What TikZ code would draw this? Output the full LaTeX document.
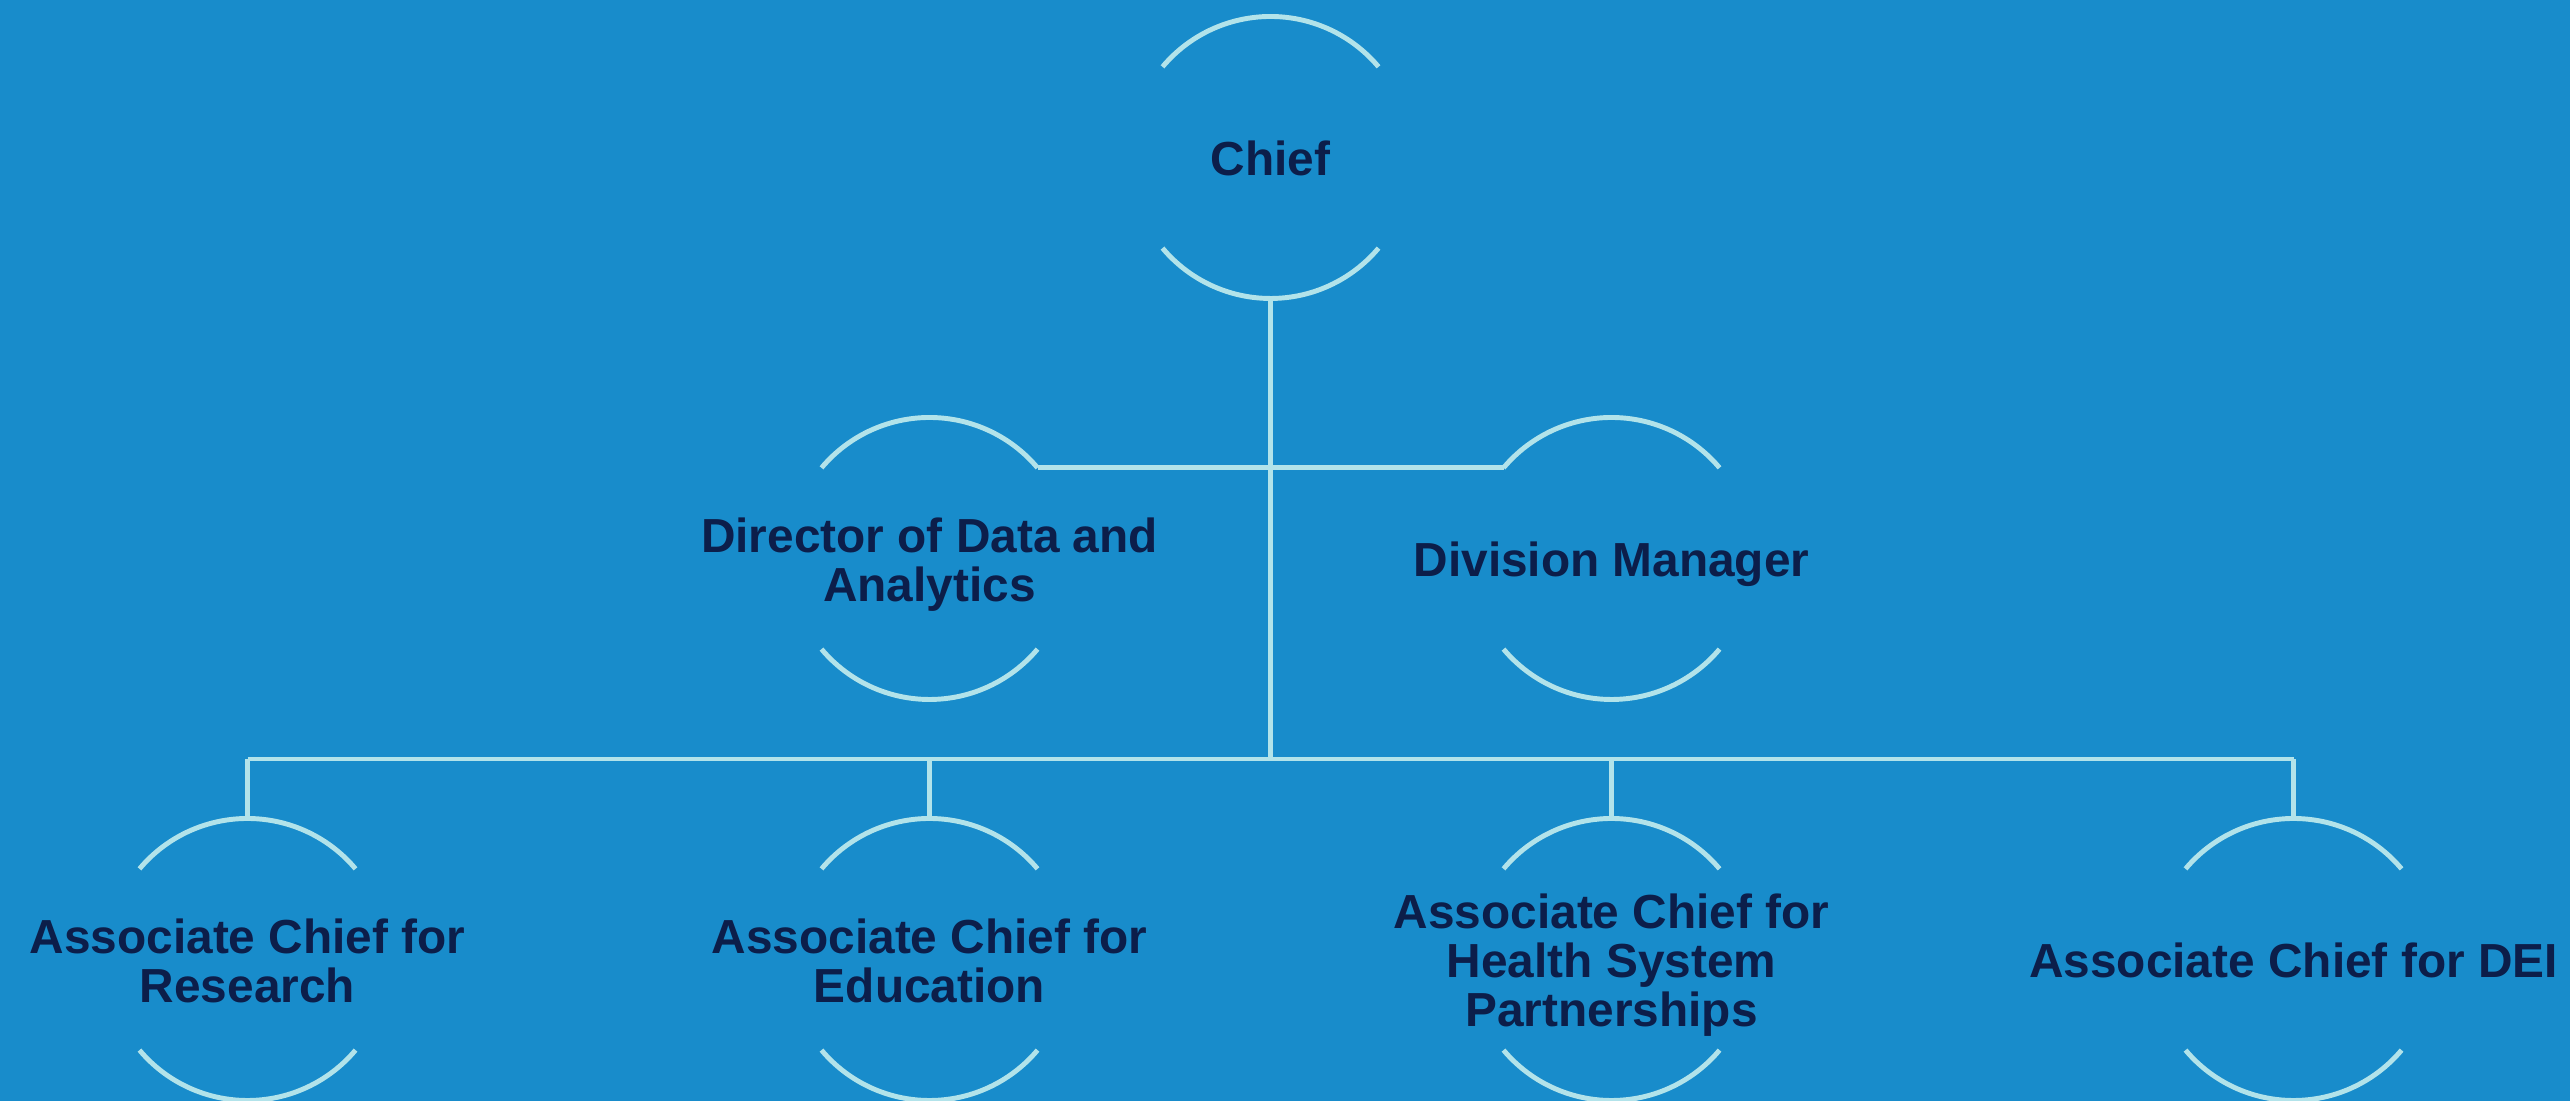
\documentclass[tikz,border=0pt]{standalone}
\usepackage{fontspec}
\setmainfont{Liberation Sans}
\usetikzlibrary{positioning}
\definecolor{bgblue}{RGB}{24,140,203}
\definecolor{ringline}{RGB}{178,227,234}
\definecolor{navy}{RGB}{12,30,74}
\newcommand{\orgtext}[1]{\makebox[0pt]{\raisebox{-2.3pt}[\height][\depth]{\begin{tabular}{@{}c@{}}#1\end{tabular}}}}

\begin{document}
\begin{tikzpicture}[node distance=4.01cm,line cap=butt,org/.style={circle,minimum size=2.82cm,inner sep=0pt,outer sep=0pt,text=navy,font=\fontsize{13.6}{13.8}\selectfont\bfseries},ring/.style={draw=ringline,line width=1.4pt},link/.style={draw=ringline,line width=1.4pt}]

            \fill[bgblue] (0,0) rectangle (25.70,11.01);
            \useasboundingbox (0,0) rectangle (25.70,11.01);

            \node[org] (chief) at (12.705,9.435) {\orgtext{Chief}};
            \node[org] (dir) [below of = chief, xshift=-3.41cm] {\orgtext{Director of Data and\\Analytics}};
            \node[org] (div) [below of = chief, xshift=3.41cm] {\orgtext{Division Manager}};
            \node[org] (edu) [below of = dir] {\orgtext{Associate Chief for\\Education}};
            \node[org] (hsp) [below of = div] {\orgtext{Associate Chief for\\Health System\\Partnerships}};
            \node[org] (res) [left of = edu, node distance=6.82cm] {\orgtext{Associate Chief for\\Research}};
            \node[org] (dei) [right of = hsp, node distance=6.82cm] {\orgtext{Associate Chief for DEI}};

            \foreach \n in {chief,dir,div,res,edu,hsp,dei}
                \draw[ring] (\n.140) arc[start angle=140,end angle=40,radius=1.41cm]
                            (\n.220) arc[start angle=220,end angle=320,radius=1.41cm];

            \coordinate (bus) at (chief |- 0,3.42);

            \draw[link] (dir.40) -- (div.140);
            \draw[link] (chief.south) -- (bus);
            \draw[link] (res.north |- bus) -- (dei.north |- bus);
            \foreach \n in {res,edu,hsp,dei}
                \draw[link] (\n.north) -- (\n.north |- bus);
        \end{tikzpicture}
\end{document}
